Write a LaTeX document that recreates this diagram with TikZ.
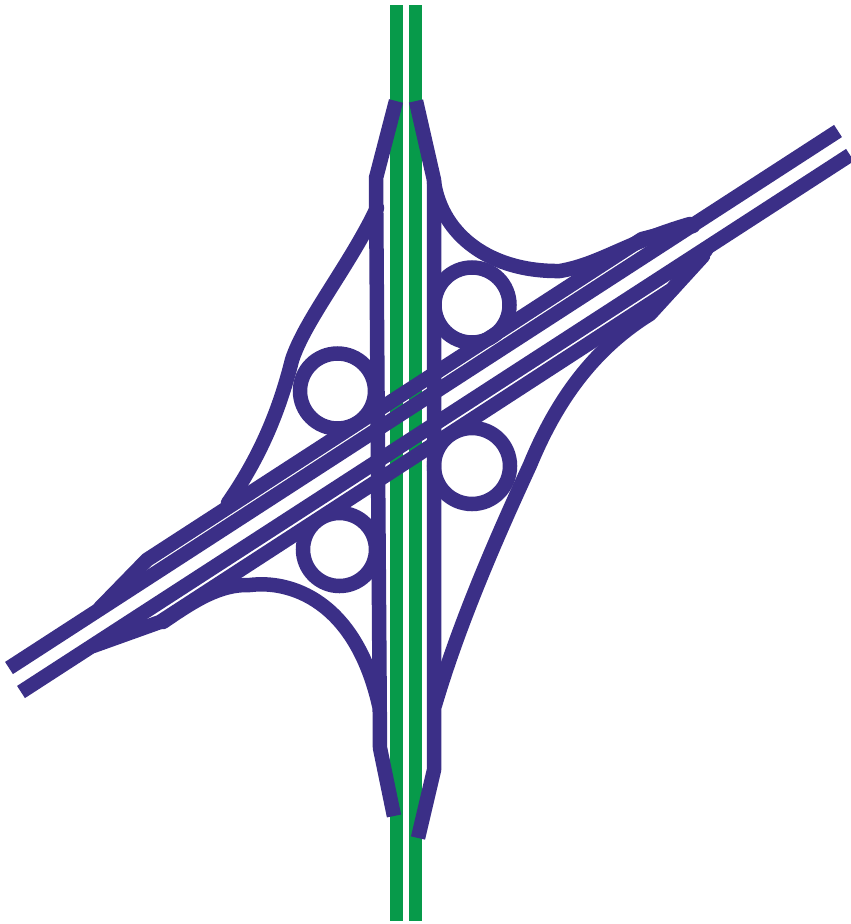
\documentclass[tikz,border=0pt]{standalone}
\definecolor{roadblue}{HTML}{3B2F87}
\definecolor{roadgreen}{HTML}{079A4A}
\tikzset{
  greenroad/.style={draw=roadgreen,line width=13pt},
  mainroad/.style={draw=roadblue,line width=14.5pt,line join=round},
  collector/.style={draw=roadblue,line width=14.5pt,line join=round,line cap=round},
  sideroad/.style={draw=roadblue,line width=14.5pt,line join=round},
  ramp/.style={draw=roadblue,line width=14.5pt,line join=round,line cap=round},
  loopramp/.style={circle,draw=roadblue,line width=14.5pt,inner sep=0pt}
}
\begin{document}
\begin{tikzpicture}[x=1pt,y=-1pt]
\useasboundingbox (0,0) rectangle (851,924);
% through road (green)
\coordinate (gaT) at (396.5,5); \coordinate (gaB) at (396.5,921);
\coordinate (gbT) at (415.5,5); \coordinate (gbB) at (415.5,921);
\draw[greenroad] (gaT) -- (gaB);
\draw[greenroad] (gbT) -- (gbB);
% diagonal road
\coordinate (mAne) at (838,131); \coordinate (mAsw) at (9,668);
\coordinate (mBne) at (850,155); \coordinate (mBsw) at (21,692);
\draw[mainroad] (mAne) -- (mAsw);
\draw[mainroad] (mBne) -- (mBsw);
% collector lanes
\draw[collector] (693,226) -- (642,239) -- (147,559.8) -- (100,608);
\draw[collector] (706,250) -- (672,289.5) -- (160,622) -- (93,646);
% vertical collectors
\draw[sideroad] (396,101) -- (376,178) -- (380,748) -- (394,816);
\draw[sideroad] (416,101) -- (434,180) -- (434,770) -- (418,838);
% outer ramps
\draw[ramp] (377,208) .. controls (350,265) and (305,320) .. (292,360)
  .. controls (282,400) and (265,450) .. (228,503);
\draw[ramp] (434,182) .. controls (442,235) and (490,272) .. (560,271)
  .. controls (600,264) and (625,243) .. (690,224);
\draw[ramp] (163,622) .. controls (195,600) and (220,584) .. (250,585)
  .. controls (290,580) and (355,600) .. (379,705);
\draw[ramp] (435,705) .. controls (460,620) and (500,530) .. (530,465)
  .. controls (560,392) and (600,345) .. (650,314) -- (703,256);
% loops
\node[loopramp,minimum size=75pt] (nw) at (337.5,391) {};
\node[loopramp,minimum size=75pt] (ne) at (472,305) {};
\node[loopramp,minimum size=73pt] (sw) at (339.5,549.5) {};
\node[loopramp,minimum size=76pt] (se) at (472,466) {};
\end{tikzpicture}
\end{document}
